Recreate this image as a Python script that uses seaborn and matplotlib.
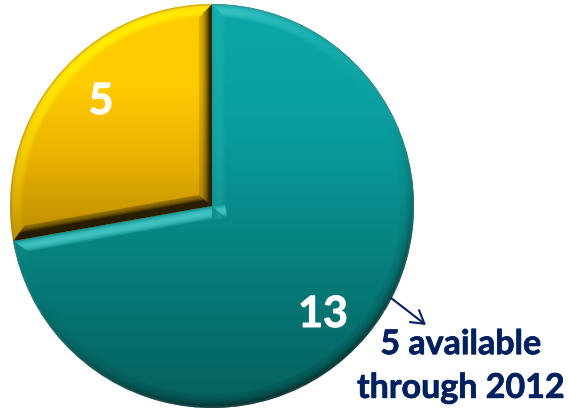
import numpy as np
import seaborn as sns
import matplotlib.pyplot as plt
import matplotlib.patheffects as pe
from matplotlib.colors import to_rgb

# Values
counts = [13, 5]
count_labels = ["13", "5"]
note_lines = "5 available\nthrough 2012"

teal_stops = ["#0BA8A8", "#0A9C9C", "#067C7A", "#055F5C"]
gold_stops = ["#FFCC00", "#FFCC00", "#E8B000", "#B88A00"]
teal_glow = "#4CCFCF"
gold_glow = "#FFF000"
navy = "#002060"

sns.set_theme(style="white")
plt.rcParams["font.family"] = ["Lato", "DejaVu Sans"]

W, H = 569, 410
cx, cy, rad = 212, 207, 202

fig = plt.figure(figsize=(W / 100, H / 100), dpi=100)
ax = fig.add_axes([0, 0, 1, 1])

wedges, _ = ax.pie(counts, startangle=90, counterclock=False, radius=1,
                   colors=["#0A9090", "#FFCC00"],
                   wedgeprops=dict(linewidth=0))
ax.set_aspect("equal")
ax.axis("off")

# Light comes from the upper left, bevel shading is worked out per pixel
n = 900
xs = np.linspace(-1, 1, n)
ys = np.linspace(1, -1, n)
X, Y = np.meshgrid(xs, ys)
R = np.hypot(X, Y)
T = np.degrees(np.arctan2(Y, X)) % 360
light = np.array([-0.45, 0.89])
bevel = 0.065


def side_dist(angle, normal):
    # distance to one straight side, carried a little past the centre for the mitre
    along = R * np.cos(np.radians(T - angle))
    perp = R * np.abs(np.sin(np.radians(T - angle)))
    facing = X * normal[0] + Y * normal[1]
    valid = (along > 0) | ((along > -bevel) & (facing < 0))
    return np.where(valid, perp, 9.0)


def shade_for(wedge, stops, glow, side_gain):
    t1, t2 = wedge.theta1, wedge.theta2
    inside = ((T - t1) % 360) <= ((t2 - t1) % 360)
    y_top, y_bot = Y[inside].max(), Y[inside].min()
    pal = np.array([to_rgb(c) for c in sns.blend_palette(stops, 256)])
    idx = np.clip((y_top - Y) / (y_top - y_bot) * 255, 0, 255).astype(int)
    img = pal[idx]

    a1, a2 = np.radians(t1), np.radians(t2)
    # outward normals of the sides
    n1 = (np.sin(a1), -np.cos(a1))
    n2 = (-np.sin(a2), np.cos(a2))

    d_arc = 1 - R
    d1 = side_dist(t1, n1)
    d2 = side_dist(t2, n2)
    n_arc_x, n_arc_y = X / np.maximum(R, 1e-6), Y / np.maximum(R, 1e-6)

    d = np.stack([d_arc, d1, d2])
    which = d.argmin(axis=0)
    dist = d.min(axis=0)
    nx = np.choose(which, [n_arc_x, np.full_like(X, n1[0]), np.full_like(X, n2[0])])
    ny = np.choose(which, [n_arc_y, np.full_like(X, n1[1]), np.full_like(X, n2[1])])
    lam = nx * light[0] + ny * light[1]
    gain = np.where(which == 0, 0.6, side_gain)

    u = np.clip(dist / bevel, 0, 1)
    on_band = dist < bevel
    # highlight peaks in the middle of the bevel, shadow is deepest at the edge
    lit = np.where(on_band, np.sin(np.pi * np.clip(u, 0.05, 1)) ** 0.8, 0)
    lit = lit * np.clip(lam, 0, 1) ** 2 * 0.9
    dark = np.where(on_band, (1 - u) ** 2 * 0.9 + 0.12, 0)
    dark = np.clip(dark * np.clip(-lam, 0, 1) * gain, 0, 0.8)

    glow_rgb = np.array(to_rgb(glow))
    img = img + (glow_rgb - img) * lit[..., None]
    img = img * (1 - dark[..., None])
    # thin grey rim along the arc
    rim = np.where(d_arc < 0.007, 0.3, 0)
    img = img * (1 - rim[..., None]) + 0.45 * rim[..., None]
    return np.clip(img, 0, 1)


palette_sets = [(teal_stops, teal_glow, 1.2), (gold_stops, gold_glow, 2.5)]
for wedge, (stops, glow, gain) in zip(wedges, palette_sets):
    im = ax.imshow(shade_for(wedge, stops, glow, gain), extent=(-1, 1, -1, 1),
                   interpolation="bilinear", zorder=2, aspect="equal")
    im.set_clip_path(wedge)

ax.set_xlim(-cx / rad, (W - cx) / rad)
ax.set_ylim((cy - H) / rad, cy / rad)


# Text is placed in figure fractions, measured from the top left
def fx(px):
    return px / W


def fy(py):
    return 1 - py / H


thicken = [pe.withStroke(linewidth=0.7, foreground="white")]
fig.text(fx(323), fy(315), count_labels[0], color="white", fontsize=31,
         fontweight="bold", ha="center", va="center", zorder=5, path_effects=thicken)
fig.text(fx(101), fy(102), count_labels[1], color="white", fontsize=31,
         fontweight="bold", ha="center", va="center", zorder=5, path_effects=thicken)

fig.text(fx(461), fy(367), note_lines, color=navy, fontsize=24.5,
         fontweight="bold", ha="center", va="center", linespacing=1.45, zorder=5,
         path_effects=[pe.withStroke(linewidth=0.5, foreground=navy)])

ax.annotate("", xy=(fx(426), fy(326)), xytext=(fx(391), fy(299)),
            xycoords="figure fraction", textcoords="figure fraction",
            arrowprops=dict(arrowstyle="->,head_length=0.75,head_width=0.45",
                            color=navy, lw=1.5, shrinkA=0, shrinkB=0))

fig.savefig("out.png", dpi=100, facecolor="white")
